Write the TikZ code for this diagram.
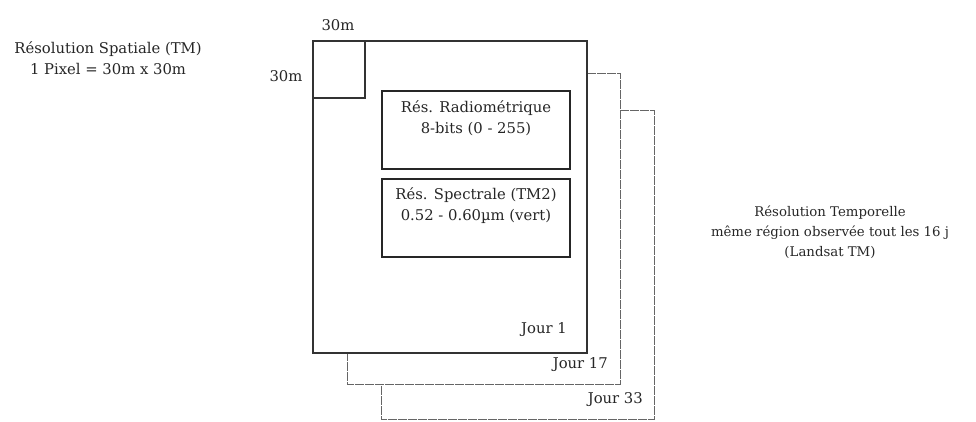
\documentclass[tikz,border=0pt]{standalone}
\usepackage{fontspec}
\setmainfont{DejaVu Serif}
\begin{document}
\begin{tikzpicture}[x=1pt,y=-1pt,
  lbl/.style={inner sep=0pt,align=center,text=black!85,font=\fontsize{14.8}{21}\selectfont},
  tlbl/.style={inner sep=0pt,align=center,text=black!85,font=\fontsize{13.3}{20}\selectfont},
  mainbox/.style={draw=black!80,line width=1.6pt},
  innerbox/.style={draw=black!85,line width=1.8pt},
  pixbox/.style={draw=black!80,line width=1.2pt},
  backbox/.style={draw=black!60,line width=0.9pt,dash pattern=on 9pt off 1pt}]
\useasboundingbox (0,0) rectangle (976,421);
% back boxes (Jour 33, Jour 17)
\coordinate (b33a) at (620,110);
\coordinate (b33b) at (654,419);
\coordinate (b33c) at (381,384);
\draw[backbox] (b33a) -| (b33b) -| (b33c);
\coordinate (b17a) at (587,73);
\coordinate (b17b) at (620,384);
\coordinate (b17c) at (347,353);
\draw[backbox] (b17a) -| (b17b) -| (b17c);
% main box (Jour 1)
\coordinate (m1) at (313,41);
\coordinate (m2) at (587,353);
\draw[mainbox] (m1) rectangle (m2);
% pixel square
\coordinate (p2) at (365,98);
\draw[pixbox] (m1) rectangle (p2);
% inner boxes
\coordinate (r1) at (382,91);
\coordinate (r2) at (570,169);
\draw[innerbox] (r1) rectangle (r2);
\coordinate (s1) at (382,179);
\coordinate (s2) at (570,257);
\draw[innerbox] (s1) rectangle (s2);
% texts
\node[lbl] (top30) at (338,25) {30m};
\node[lbl] (left30) at (286,76) {30m};
\node[lbl] (spat) at (108,58) {Résolution Spatiale (TM)\\1 Pixel = 30m x 30m};
\node[lbl] (radio) at (476,118) {Rés. Radiométrique\\8-bits (0 - 255)};
\node[lbl] (spec) at (476,206) {Rés. Spectrale (TM2)\\0.52 - 0.60µm (vert)};
\node[lbl,anchor=east] (j1) at (567,330) {Jour 1};
\node[lbl,anchor=east] (j17) at (608,365) {Jour 17};
\node[lbl,anchor=east] (j33) at (643,400) {Jour 33};
\node[tlbl] (temp) at (830,232) {Résolution Temporelle\\même région observée tout les 16 j\\(Landsat TM)};
\end{tikzpicture}
\end{document}
